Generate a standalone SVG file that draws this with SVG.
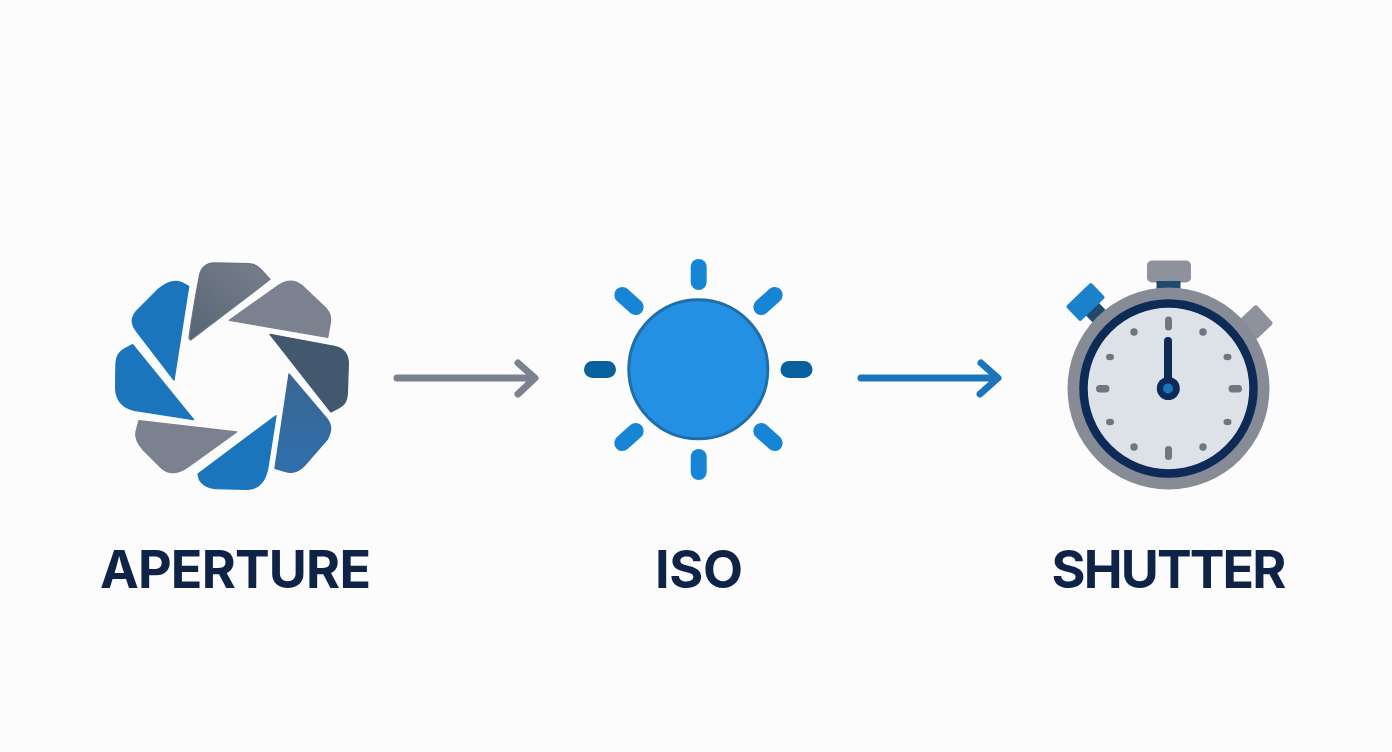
<svg xmlns="http://www.w3.org/2000/svg" width="1392" height="752" viewBox="0 0 1392 752">
<style>
.lbl{font-family:"Inter","Liberation Sans",sans-serif;font-weight:700;font-size:52px;fill:#0f2347;text-anchor:middle}
.ray{fill:#1685d6}
.rayd{fill:#08609f}
.tick{fill:#70757f}
.conn{fill:none;stroke-width:7;stroke-linecap:round;stroke-linejoin:round}
#aperture path{stroke-width:4;stroke-linejoin:round}
</style>
<defs>
<linearGradient id="g1" x1="0" y1="1" x2="1" y2="0"><stop offset="0" stop-color="#566475"/><stop offset="1" stop-color="#7a808c"/></linearGradient>
<linearGradient id="g4" x1="0" y1="0" x2="0" y2="1"><stop offset="0" stop-color="#3a6690"/><stop offset="1" stop-color="#2f6fae"/></linearGradient>
</defs>
<rect width="1392" height="752" fill="#fcfcfd"/>
<g id="aperture">
<g transform="translate(100 250) scale(.33333)">
<path fill="url(#g1)" stroke="#69727f" d="M267 264C275 205 290 120 298 78C304 50 318 40 342 39L445 41C466 42 476 50 484 60L510 88L272 270Z"/>
<path fill="#7b818e" stroke="#7b818e" d="M388 211L537 105C565 87 585 90 605 106L678 175C690 188 694 200 691 218L683 262Z"/>
<path fill="#41586f" stroke="#41586f" d="M510 253L703 289C733 296 745 315 745 340L742 430C740 458 730 466 716 474L693 486Z"/>
<path fill="url(#g4)" stroke="#36699c" d="M567 372L680 505C695 525 696 540 682 568L612 648C590 668 575 670 555 664L525 655Z"/>
<path fill="#1b75bc" stroke="#1b75bc" d="M528 497L505 645C498 695 475 718 440 718L345 716C320 712 305 702 298 688L294 672Z"/>
<path fill="#7b818e" stroke="#7b818e" d="M410 546L265 650C230 675 205 672 185 655L130 600C110 578 105 562 108 545L117 512Z"/>
<path fill="#1b75bc" stroke="#1b75bc" d="M281 509L102 481C65 472 48 450 47 415L48 340C50 312 62 302 75 296L98 284Z"/>
<path fill="#1b75bc" stroke="#1b75bc" d="M222 390L112 247C92 220 93 205 108 185L175 118C205 93 225 90 245 98L266 109Z"/>
</g>
<text class="lbl" x="235.500" y="588" textLength="271">APERTURE</text>
</g>
<g id="connectors">
<path class="conn" stroke="#7b818e" d="M397 378H534M518 363L535 378L518 394"/>
<path class="conn" stroke="#1b75bc" d="M861 378H997M981 363L998 378L980 394"/>
</g>
<g id="iso">
<circle cx="698.300" cy="369.300" r="69.500" fill="#2490e3" stroke="#1f6ea8" stroke-width="3"/>
<rect class="ray" x="690.700" y="259" width="16" height="31" rx="8"/>
<rect class="ray" x="690.700" y="449" width="16" height="31" rx="8"/>
<rect class="rayd" x="584" y="361" width="32" height="17" rx="8.500"/>
<rect class="rayd" x="780.500" y="361" width="32" height="17" rx="8.500"/>
<rect class="ray" x="-17" y="-8" width="34" height="16" rx="8" transform="translate(629 301) rotate(42)"/>
<rect class="ray" x="-17" y="-8" width="34" height="16" rx="8" transform="translate(768 301) rotate(-42)"/>
<rect class="ray" x="-17" y="-8" width="34" height="16" rx="8" transform="translate(629 437) rotate(-42)"/>
<rect class="ray" x="-17" y="-8" width="34" height="16" rx="8" transform="translate(768 437) rotate(42)"/>
<text class="lbl" x="699" y="588" textLength="88">ISO</text>
</g>
<g id="shutter">
<rect x="1147" y="260.500" width="44" height="22" rx="5" fill="#8d929c"/>
<rect x="1156.500" y="281" width="24" height="10" fill="#1f4a6b"/>
<g transform="translate(1085.500 302) rotate(-44)">
<rect x="-9" y="8" width="18" height="20" fill="#1f4a6b"/>
<rect x="-17.500" y="-10.500" width="35" height="21" rx="2" fill="#1b82c9"/>
</g>
<rect x="-13" y="-12" width="26" height="24" rx="3" transform="translate(1256 322) rotate(47)" fill="#8d929c"/>
<circle cx="1168.500" cy="388.500" r="101" fill="#868b96"/>
<circle cx="1168.500" cy="388.500" r="85" fill="#dde2e8" stroke="#0e2a56" stroke-width="8.500"/>
<g class="tick">
<rect x="1165" y="316.500" width="7" height="14" rx="3.500"/>
<rect x="1165" y="446" width="7" height="14" rx="3.500"/>
<rect x="1096" y="385" width="13.500" height="7.500" rx="3.700"/>
<rect x="1228.500" y="385" width="13.500" height="7.500" rx="3.700"/>
<circle cx="1134" cy="332" r="3.700"/>
<circle cx="1203" cy="332" r="3.700"/>
<circle cx="1134" cy="447" r="3.700"/>
<circle cx="1203" cy="447" r="3.700"/>
<ellipse cx="1110" cy="357" rx="4" ry="3.200"/>
<ellipse cx="1227.500" cy="357" rx="4" ry="3.200"/>
<ellipse cx="1110" cy="422" rx="4" ry="3.200"/>
<ellipse cx="1227.500" cy="422" rx="4" ry="3.200"/>
</g>
<rect x="1164" y="337" width="8" height="54" rx="4" fill="#0e2a56"/>
<circle cx="1168.300" cy="388.500" r="11.500" fill="#0e2a56"/>
<circle cx="1168" cy="388.500" r="5" fill="#1b75bc"/>
<text class="lbl" x="1169" y="588" textLength="235">SHUTTER</text>
</g>
</svg>
